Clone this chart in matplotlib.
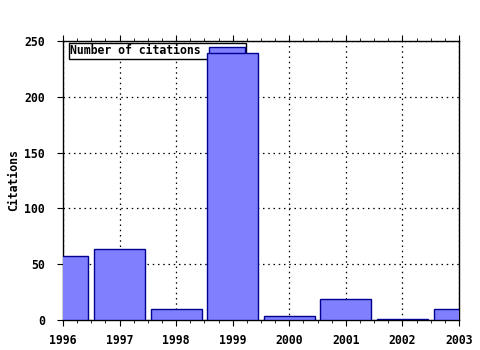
import matplotlib
matplotlib.use("Agg")
import matplotlib.pyplot as plt
from matplotlib.ticker import MultipleLocator

years = [1996, 1997, 1998, 1999, 2000, 2001, 2002, 2003]
citations = [57, 64, 10, 239, 4, 19, 1, 10]
yticks = [0, 50, 100, 150, 200, 250]

plt.rcParams['font.family'] = ['DejaVu Sans Mono']
plt.rcParams['font.weight'] = 'bold'
plt.rcParams['font.size'] = 8.3

fig = plt.figure(figsize=(4.8, 3.5), dpi=100)
ax = fig.add_axes([63/480, 30/350, 396/480, 279/350])

ax.bar(years, citations, width=0.9, color='#8080ff', edgecolor='#000090',
       linewidth=1.0, label='Number of citations', zorder=3)

ax.set_xlim(1996, 2003)
ax.set_ylim(0, 250)
ax.set_xticks(years)
ax.set_yticks(yticks)
ax.xaxis.set_minor_locator(MultipleLocator(0.25))
ax.grid(True, which='major', linestyle=(0, (1.2, 3)), color='black', linewidth=0.9, zorder=1)
ax.set_axisbelow(True)

ax.tick_params(axis='x', which='major', direction='out', length=4, top=True, labeltop=False, pad=6)
ax.tick_params(axis='x', which='minor', direction='out', length=2, top=True)
ax.tick_params(axis='y', which='major', direction='out', length=4, right=False, pad=9)
for lbl in ax.get_xticklabels() + ax.get_yticklabels():
    lbl.set_fontweight('bold')

for s in ax.spines.values():
    s.set_linewidth(1.0)
    s.set_color('black')

ax.set_ylabel('Citations', fontweight='bold')
ax.yaxis.set_label_coords(-0.108, 0.5)

leg = ax.legend(loc='upper left', bbox_to_anchor=(0.015, 0.992), frameon=True,
                fancybox=False, framealpha=1, edgecolor='black', borderpad=0.1,
                handlelength=3.1, handleheight=0.6, handletextpad=0.75,
                markerfirst=False, borderaxespad=0)
leg.get_frame().set_linewidth(1.0)
leg.set_zorder(2)
for t in leg.get_texts():
    t.set_fontweight('bold')

fig.savefig('out.png', dpi=100)
